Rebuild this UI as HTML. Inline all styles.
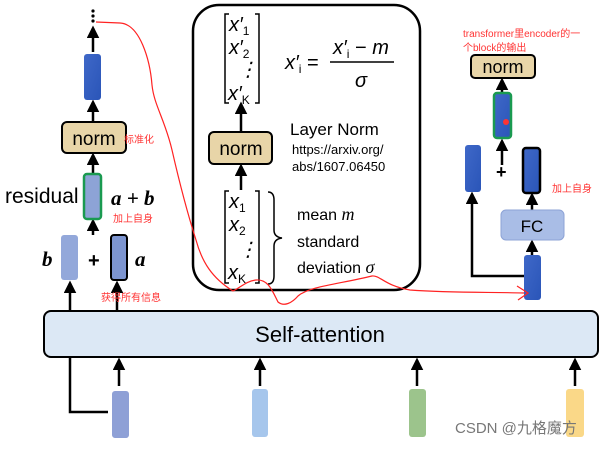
<!DOCTYPE html>
<html><head><meta charset="utf-8"><style>
body{margin:0;background:#fff;width:606px;height:448px;overflow:hidden}
text{font-family:"Liberation Sans","Noto Sans CJK SC",sans-serif}
.m{font-family:"Liberation Serif","DejaVu Serif",serif;font-style:italic}
.s{font-size:12px;font-style:normal;font-family:"Liberation Sans",sans-serif}
</style></head><body>
<svg width="606" height="448" viewBox="0 0 606 448" xmlns="http://www.w3.org/2000/svg">
<defs>
<marker id="ar" viewBox="0 0 10 10" refX="8" refY="5" markerWidth="5" markerHeight="5" orient="auto"><path d="M0,0L10,5L0,10z" fill="#000"/></marker>
<linearGradient id="bl" x1="0" y1="0" x2="1" y2="1"><stop offset="0" stop-color="#3f68c8"/><stop offset="1" stop-color="#2a55b8"/></linearGradient>
</defs>
<g stroke="#000" stroke-width="2.5" fill="none" marker-end="url(#ar)">
<line x1="93" y1="52" x2="93" y2="28"/>
<line x1="93" y1="122" x2="93" y2="102"/>
<line x1="93" y1="173" x2="93" y2="155"/>
<line x1="93" y1="235" x2="93" y2="221"/>
<line x1="70" y1="310" x2="70" y2="283"/>
<line x1="117" y1="310" x2="117" y2="283"/>
<line x1="241" y1="132" x2="241" y2="104"/>
<line x1="241" y1="190" x2="241" y2="166"/>
<line x1="502" y1="92" x2="502" y2="80"/>
<line x1="502" y1="165" x2="502" y2="141"/>
<line x1="532" y1="210" x2="532" y2="195"/>
<line x1="532" y1="255" x2="532" y2="242"/>
<polyline points="524,276 472,276 472,194"/>
<line x1="119" y1="386" x2="119" y2="360"/>
<line x1="260" y1="386" x2="260" y2="360"/>
<line x1="417" y1="386" x2="417" y2="360"/>
<line x1="575" y1="386" x2="575" y2="360"/>
</g>
<polyline points="108,412 70,412 70,310" stroke="#000" stroke-width="2.5" fill="none"/>
<g fill="#000"><circle cx="93" cy="11" r="1.6"/><circle cx="93" cy="16" r="1.6"/><circle cx="93" cy="21" r="1.6"/></g>
<!-- left column -->
<rect x="84" y="54" width="17" height="46" rx="3" fill="url(#bl)"/>
<rect x="62" y="122" width="64" height="31" rx="5" fill="#e8d5a8" stroke="#000" stroke-width="2"/>
<text x="94" y="145" font-size="19" text-anchor="middle">norm</text>
<text x="124" y="143" font-size="10" fill="#f33">标准化</text>
<rect x="84" y="174" width="17" height="45" rx="3" fill="#8da3d6" stroke="#1a9a50" stroke-width="2.5"/>
<text x="5" y="203" font-size="21">residual</text>
<text x="111" y="205" font-size="21" font-weight="bold" class="m">a + b</text>
<text x="113" y="222" font-size="10" fill="#f33">加上自身</text>
<rect x="61" y="235" width="17" height="45" rx="3" fill="#93a8da"/>
<rect x="111" y="235" width="16" height="45" rx="3" fill="#7d95d0" stroke="#000" stroke-width="2"/>
<text x="42" y="266" font-size="21" font-weight="bold" class="m">b</text>
<text x="88" y="267" font-size="20" font-weight="bold">+</text>
<text x="135" y="266" font-size="21" font-weight="bold" class="m">a</text>
<text x="101" y="301" font-size="10" fill="#f33">获得所有信息</text>
<!-- middle box -->
<rect x="193" y="5" width="227" height="285" rx="26" fill="none" stroke="#000" stroke-width="2.5"/>
<g stroke="#000" stroke-width="1.5" fill="none">
<path d="M229,14h-4v89h4M255,14h4v89h-4"/>
<path d="M229,191h-4v92h4M255,191h4v92h-4"/>
<path d="M268,192q6,0 6,8v30q0,7 8,8q-8,1 -8,8v30q0,8 -6,8"/>
<line x1="330" y1="62" x2="394" y2="62"/>
</g>
<g class="m" font-size="20">
<text x="229" y="31">x′<tspan class="s" dy="4">1</tspan></text>
<text x="229" y="54">x′<tspan class="s" dy="4">2</tspan></text>
<text x="238" y="76">⋮</text>
<text x="228" y="100">x′<tspan class="s" dy="4">K</tspan></text>
<text x="229" y="208">x<tspan class="s" dy="4">1</tspan></text>
<text x="229" y="231">x<tspan class="s" dy="4">2</tspan></text>
<text x="238" y="256">⋮</text>
<text x="228" y="279">x<tspan class="s" dy="4">K</tspan></text>
<text x="285" y="69">x′<tspan class="s" dy="4">i</tspan><tspan dy="-4" font-style="normal"> =</tspan></text>
<text x="333" y="54">x′<tspan class="s" dy="4">i</tspan><tspan dy="-4" font-style="normal"> − </tspan>m</text>
<text x="355" y="87">σ</text>
</g>
<rect x="209" y="132" width="63" height="32" rx="5" fill="#e8d5a8" stroke="#000" stroke-width="2"/>
<text x="241" y="155" font-size="19" text-anchor="middle">norm</text>
<text x="290" y="135" font-size="17">Layer Norm</text>
<text x="292" y="154" font-size="13">https://arxiv.org/</text>
<text x="292" y="171" font-size="13">abs/1607.06450</text>
<text x="297" y="220" font-size="16">mean <tspan class="m" font-size="18">m</tspan></text>
<text x="297" y="247" font-size="16">standard</text>
<text x="297" y="273" font-size="16">deviation <tspan class="m" font-size="18">σ</tspan></text>
<!-- right -->
<text x="463" y="37" font-size="10" fill="#f33">transformer里encoder的一</text>
<text x="463" y="51" font-size="10" fill="#f33">个block的输出</text>
<rect x="471" y="55" width="64" height="23" rx="4" fill="#e8d5a8" stroke="#000" stroke-width="2"/>
<text x="503" y="73" font-size="18" text-anchor="middle">norm</text>
<rect x="494" y="93" width="17" height="45" rx="3" fill="url(#bl)" stroke="#1a9a50" stroke-width="2.5"/>
<circle cx="506" cy="122" r="3" fill="#f33"/>
<rect x="465" y="145" width="16" height="47" rx="3" fill="url(#bl)"/>
<text x="496" y="178" font-size="18" font-weight="bold">+</text>
<rect x="523" y="148" width="17" height="45" rx="3" fill="url(#bl)" stroke="#000" stroke-width="2.5"/>
<text x="552" y="192" font-size="10" fill="#f33">加上自身</text>
<rect x="501" y="210" width="63" height="30" rx="5" fill="#a9bde6" stroke="#8da3d6"/>
<text x="532" y="232" font-size="17" text-anchor="middle">FC</text>
<rect x="524" y="255" width="17" height="45" rx="3" fill="url(#bl)"/>
<!-- self-attention -->
<rect x="44" y="311" width="554" height="46" rx="7" fill="#dce8f5" stroke="#000" stroke-width="2"/>
<text x="320" y="342" font-size="22" text-anchor="middle">Self-attention</text>
<rect x="112" y="391" width="17" height="47" rx="3" fill="#8ea0d6"/>
<rect x="252" y="389" width="16" height="48" rx="3" fill="#a6c6ec"/>
<rect x="409" y="389" width="17" height="48" rx="3" fill="#9cc48c"/>
<rect x="566" y="389" width="18" height="48" rx="3" fill="#fad888"/>
<text x="455" y="433" font-size="15" fill="#777">CSDN @九格魔方</text>
<!-- red curve -->
<path d="M96,22 L120,23 C140,24 150,60 152,85 C154,105 165,120 172,150 C180,185 188,215 196,240 C202,262 212,278 233,291 C240,288 246,281 256,280 C268,279 272,290 278,302 C284,307 292,303 298,296 C310,286 340,284 372,276 C380,275 385,286 410,290 C450,293 490,292 524,293" fill="none" stroke="#f22" stroke-width="1.2"/>
<path d="M517,286 L528,293 L518,300" fill="none" stroke="#f22" stroke-width="1.2"/>
</svg>
</body></html>
